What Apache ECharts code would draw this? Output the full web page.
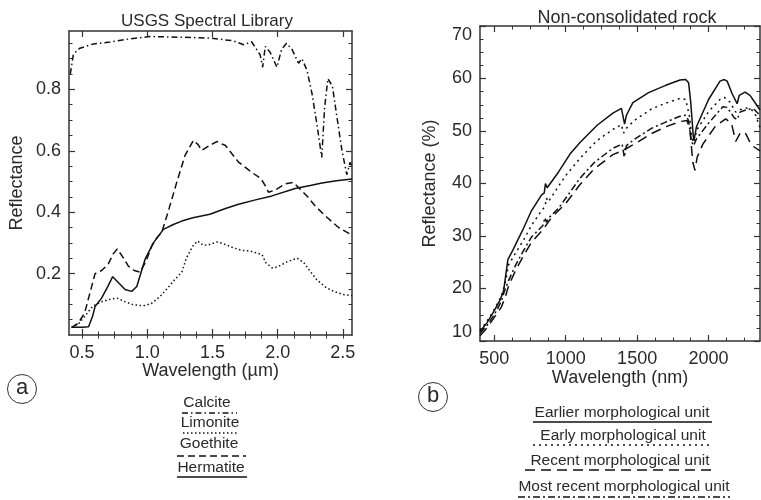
<!DOCTYPE html>
<html>
<head>
<meta charset="utf-8">
<script src="https://cdn.jsdelivr.net/npm/echarts@6/dist/echarts.min.js"></script>
<style>
  html, body { margin: 0; padding: 0; background: #fff; }
  #chart { width: 761px; height: 500px; }
</style>
</head>
<body>
<div id="chart"></div>
<script>
// ---- data: left panel (USGS spectral library), wavelength in um ----
const calcite = [[0.41,0.85],[0.433,0.912],[0.46,0.926],[0.484,0.934],[0.587,0.948],[0.715,0.954],[0.843,0.963],[1.02,0.972],[1.227,0.97],[1.48,0.967],[1.66,0.958],[1.74,0.945],[1.8,0.955],[1.866,0.912],[1.885,0.872],[1.905,0.94],[1.943,0.92],[1.994,0.872],[2.03,0.93],[2.068,0.95],[2.11,0.93],[2.16,0.885],[2.186,0.9],[2.225,0.862],[2.263,0.787],[2.3,0.689],[2.338,0.578],[2.36,0.74],[2.385,0.835],[2.42,0.81],[2.454,0.711],[2.493,0.601],[2.53,0.522],[2.555,0.562],[2.57,0.55]];
const limonite = [[0.42,0.025],[0.47,0.035],[0.52,0.06],[0.57,0.088],[0.6,0.098],[0.65,0.108],[0.72,0.117],[0.77,0.12],[0.82,0.11],[0.89,0.099],[0.97,0.095],[1.03,0.102],[1.1,0.126],[1.15,0.15],[1.2,0.175],[1.265,0.205],[1.3,0.25],[1.35,0.29],[1.385,0.306],[1.43,0.292],[1.48,0.295],[1.533,0.303],[1.58,0.298],[1.66,0.284],[1.72,0.276],[1.79,0.273],[1.88,0.262],[1.91,0.235],[1.96,0.218],[2.0,0.222],[2.07,0.238],[2.15,0.25],[2.2,0.236],[2.25,0.207],[2.3,0.18],[2.37,0.155],[2.43,0.142],[2.5,0.132],[2.57,0.128]];
const goethite = [[0.42,0.025],[0.47,0.038],[0.52,0.072],[0.55,0.12],[0.575,0.16],[0.6,0.2],[0.65,0.21],[0.7,0.23],[0.74,0.265],[0.77,0.28],[0.817,0.251],[0.855,0.224],[0.9,0.21],[0.945,0.205],[0.99,0.24],[1.035,0.29],[1.08,0.32],[1.11,0.333],[1.162,0.404],[1.226,0.497],[1.29,0.585],[1.354,0.634],[1.39,0.62],[1.418,0.601],[1.47,0.615],[1.533,0.63],[1.6,0.617],[1.7,0.563],[1.8,0.53],[1.87,0.51],[1.9,0.49],[1.93,0.465],[1.98,0.472],[2.057,0.492],[2.12,0.497],[2.173,0.475],[2.23,0.45],[2.288,0.42],[2.365,0.388],[2.467,0.35],[2.57,0.325]];
const hematite = [[0.42,0.025],[0.5,0.025],[0.55,0.027],[0.58,0.06],[0.6,0.093],[0.65,0.12],[0.7,0.16],[0.735,0.19],[0.78,0.17],[0.83,0.148],[0.88,0.142],[0.92,0.158],[0.95,0.2],[0.983,0.246],[1.047,0.3],[1.124,0.344],[1.2,0.36],[1.265,0.371],[1.35,0.382],[1.48,0.393],[1.6,0.412],[1.7,0.426],[1.83,0.44],[1.956,0.453],[2.134,0.477],[2.25,0.487],[2.34,0.495],[2.45,0.502],[2.57,0.508]];

// ---- data: right panel (non-consolidated rock), wavelength in nm ----
const earlier = [[400,11.8],[450,13.5],[500,15.8],[540,17.8],[565,19.5],[580,22.5],[595,25.5],[630,27.3],[700,31.2],[760,34.8],[830,37.8],[850,38.2],[858,40],[870,39.2],[880,39.5],[950,42.2],[1030,45.6],[1100,47.8],[1220,51.1],[1330,53.4],[1390,54.3],[1400,54],[1412,51.3],[1425,53],[1470,55.4],[1580,57.3],[1700,58.7],[1800,59.7],[1840,59.8],[1860,59.2],[1875,55.5],[1893,49],[1898,48.2],[1915,50.8],[2000,56],[2080,59.5],[2110,59.8],[2130,59.5],[2165,57.1],[2200,55.2],[2215,56.8],[2255,57.4],[2290,56.8],[2335,55],[2360,54]];
const early = [[400,12],[450,13.8],[500,16],[550,18.5],[580,21.5],[600,24.5],[650,26.8],[700,29],[760,32],[830,34.8],[855,35.6],[865,37.2],[878,36.5],[950,39.5],[1000,41.5],[1100,44.8],[1220,48.2],[1330,50.3],[1390,51.2],[1405,49.6],[1420,50.4],[1480,52],[1600,54.2],[1700,55.3],[1800,56.2],[1840,56],[1865,53],[1885,48.5],[1895,47.8],[1920,50.3],[2000,53.7],[2080,56],[2110,56.4],[2150,55.5],[2190,53.6],[2215,54],[2260,54.4],[2300,54.1],[2330,53],[2360,50.6]];
const recent = [[400,11],[450,12.5],[500,14.5],[550,16.5],[575,18.2],[600,20.5],[650,23.5],[700,26],[760,28.8],[840,31.2],[900,33.5],[1000,36.2],[1100,39.8],[1200,42.8],[1330,45.5],[1400,46.3],[1500,47.8],[1600,49.5],[1700,50.8],[1800,51.8],[1850,52],[1870,50],[1890,44],[1905,42.5],[1920,45],[1960,47.5],[2050,51],[2120,52.3],[2160,51.5],[2190,48],[2225,49.8],[2260,49.5],[2300,47.3],[2360,46.2]];
const mostRecent = [[400,11.5],[450,13],[500,15],[550,17.6],[570,19.4],[600,21.5],[650,24.5],[700,27],[760,29.8],[840,32],[855,33.5],[865,32.6],[880,33.4],[950,35.3],[1000,37.2],[1100,41],[1200,44],[1330,46.7],[1395,47.5],[1410,45],[1425,47.2],[1480,48.4],[1600,50.5],[1700,51.7],[1800,52.8],[1840,53],[1860,52],[1880,48],[1895,47.2],[1915,48.5],[2000,51.5],[2100,54.6],[2130,54.5],[2180,52.5],[2200,52.2],[2220,53.6],[2280,54.2],[2320,54.1],[2360,53]];

// ---- tick labels ----
const xTicksA = [0.5, 1.0, 1.5, 2.0, 2.5];
const yTicksA = [0.2, 0.4, 0.6, 0.8];
const xTicksB = [500, 1000, 1500, 2000];
const yTicksB = [10, 20, 30, 40, 50, 60, 70];

const legendA = ['Calcite', 'Limonite', 'Goethite', 'Hermatite'];
const legendB = ['Earlier morphological unit', 'Early morphological unit', 'Recent morphological unit', 'Most recent morphological unit'];

const font = '"Liberation Sans", Arial, sans-serif';
const ink = '#111';
const txt = '#2a2a2a';
const frame = '#333';

function steps(from, to, step) {
  const out = [];
  for (let v = from; v <= to + 1e-9; v += step) out.push(+v.toFixed(4));
  return out;
}

// four overlapping axes per side pair: main ticks + labels, mirrored side, minor ticks on both
function makeAxes(dim, grid, min, max, major, minor, fmt, name, nameGap, extraLabel) {
  const sides = dim === 'x' ? ['bottom', 'top'] : ['left', 'right'];
  const base = { type: 'value', gridIndex: grid, min: min, max: max, splitLine: { show: false } };
  const mainLabel = Object.assign({
    customValues: major, formatter: fmt, color: txt, fontSize: 18, fontFamily: font,
    margin: dim === 'x' ? 9 : 8
  }, extraLabel || {});
  return [
    Object.assign({}, base, {
      position: sides[0],
      name: name, nameLocation: 'middle', nameGap: nameGap, nameMoveOverlap: false,
      nameTextStyle: { color: txt, fontSize: 18, fontFamily: font },
      axisLine: { show: true, lineStyle: { color: frame, width: 1.5 } },
      axisTick: { show: true, inside: true, length: 6, customValues: major, lineStyle: { color: frame, width: 1.2 } },
      axisLabel: mainLabel
    }),
    Object.assign({}, base, {
      position: sides[1],
      axisLine: { show: true, onZero: false, lineStyle: { color: frame, width: 1.5 } },
      axisTick: { show: true, inside: true, length: 6, customValues: major, lineStyle: { color: frame, width: 1.2 } },
      axisLabel: { show: false }
    }),
    Object.assign({}, base, {
      position: sides[0],
      axisLine: { show: false },
      axisTick: { show: true, inside: true, length: 3.5, customValues: minor, lineStyle: { color: frame, width: 1 } },
      axisLabel: { show: false }
    }),
    Object.assign({}, base, {
      position: sides[1],
      axisLine: { show: false },
      axisTick: { show: true, inside: true, length: 3.5, customValues: minor, lineStyle: { color: frame, width: 1 } },
      axisLabel: { show: false }
    })
  ];
}

const xAxisList = []
  .concat(makeAxes('x', 0, 0.4, 2.57, xTicksA, steps(0.5, 2.5, 0.125), v => v.toFixed(1), 'Wavelength (\u00b5m)', 27))
  .concat(makeAxes('x', 1, 400, 2360, xTicksB, steps(500, 2250, 125), v => String(v), 'Wavelength (nm)', 28));
const yAxisList = []
  .concat(makeAxes('y', 0, 0, 0.99, yTicksA, steps(0.05, 0.95, 0.05), v => v.toFixed(1), 'Reflectance', 43))
  .concat(makeAxes('y', 1, 10, 70, yTicksB, steps(12.5, 67.5, 2.5), v => String(v), 'Reflectance (%)', 41,
    { verticalAlignMinLabel: 'bottom', verticalAlignMaxLabel: 'top' }));

function line(name, data, dash, xi, yi) {
  return {
    name: name, type: 'line', data: data, xAxisIndex: xi, yAxisIndex: yi,
    showSymbol: false, symbol: 'none', animation: false,
    lineStyle: { color: ink, width: 1.5, type: dash }
  };
}

const dashA = [[6, 3, 1.5, 3], [1.5, 2.5], [7, 4], 'solid'];
const dashB = ['solid', [2, 4], [10, 6], [7, 3, 2, 3]];

const series = [
  line(legendA[0], calcite, dashA[0], 0, 0),
  line(legendA[1], limonite, dashA[1], 0, 0),
  line(legendA[2], goethite, dashA[2], 0, 0),
  line(legendA[3], hematite, dashA[3], 0, 0),
  line(legendB[0], earlier, dashB[0], 4, 4),
  line(legendB[1], early, dashB[1], 4, 4),
  line(legendB[2], recent, dashB[2], 4, 4),
  line(legendB[3], mostRecent, dashB[3], 4, 4)
];

// legend blocks drawn as underlined captions
const legA = [
  { x: 207, y: 403, l: 182, r: 237, ly: 413 },
  { x: 210, y: 423, l: 183, r: 238, ly: 433 },
  { x: 209, y: 444, l: 177, r: 246, ly: 456 },
  { x: 211, y: 468, l: 177, r: 247, ly: 477 }
];
const legB = [
  { x: 622, y: 413, l: 533, r: 712, ly: 422 },
  { x: 623, y: 436, l: 533, r: 712, ly: 445 },
  { x: 620, y: 461, l: 525, r: 717, ly: 470 },
  { x: 624, y: 487, l: 518, r: 730, ly: 497 }
];

const graphics = [];
function caption(label, p, dash) {
  graphics.push({
    type: 'text', x: p.x, y: p.y,
    style: { text: label, fill: txt, font: '15.5px ' + font, align: 'center', verticalAlign: 'middle' }
  });
  graphics.push({
    type: 'line', shape: { x1: p.l, y1: p.ly, x2: p.r, y2: p.ly },
    style: { stroke: ink, lineWidth: 1.5, lineDash: dash === 'solid' ? null : dash }
  });
}
legendA.forEach((n, i) => caption(n, legA[i], dashA[i]));
legendB.forEach((n, i) => caption(n, legB[i], dashB[i]));

// panel letters
[['a', 22, 389], ['b', 433, 397]].forEach(([t, cx, cy]) => {
  graphics.push({ type: 'circle', shape: { cx: cx, cy: cy, r: 14.5 }, style: { fill: 'none', stroke: '#333', lineWidth: 1 } });
  graphics.push({ type: 'text', x: cx, y: cy - 1, style: { text: t, fill: txt, font: '22px ' + font, align: 'center', verticalAlign: 'middle' } });
});

const chart = echarts.init(document.getElementById('chart'));
chart.setOption({
  backgroundColor: '#fff',
  animation: false,
  title: [
    { text: 'USGS Spectral Library', left: 202, top: 8, textAlign: 'center',
      textStyle: { color: txt, fontSize: 17, fontWeight: 'normal', fontFamily: font } },
    { text: 'Non-consolidated rock', left: 622, top: 4, textAlign: 'center',
      textStyle: { color: txt, fontSize: 18, fontWeight: 'normal', fontFamily: font } }
  ],
  grid: [
    { left: 69, top: 31, width: 283, height: 304, containLabel: false },
    { left: 480, top: 26, width: 280, height: 315, containLabel: false }
  ],
  xAxis: xAxisList,
  yAxis: yAxisList,
  series: series,
  graphic: graphics
});
</script>
</body>
</html>
